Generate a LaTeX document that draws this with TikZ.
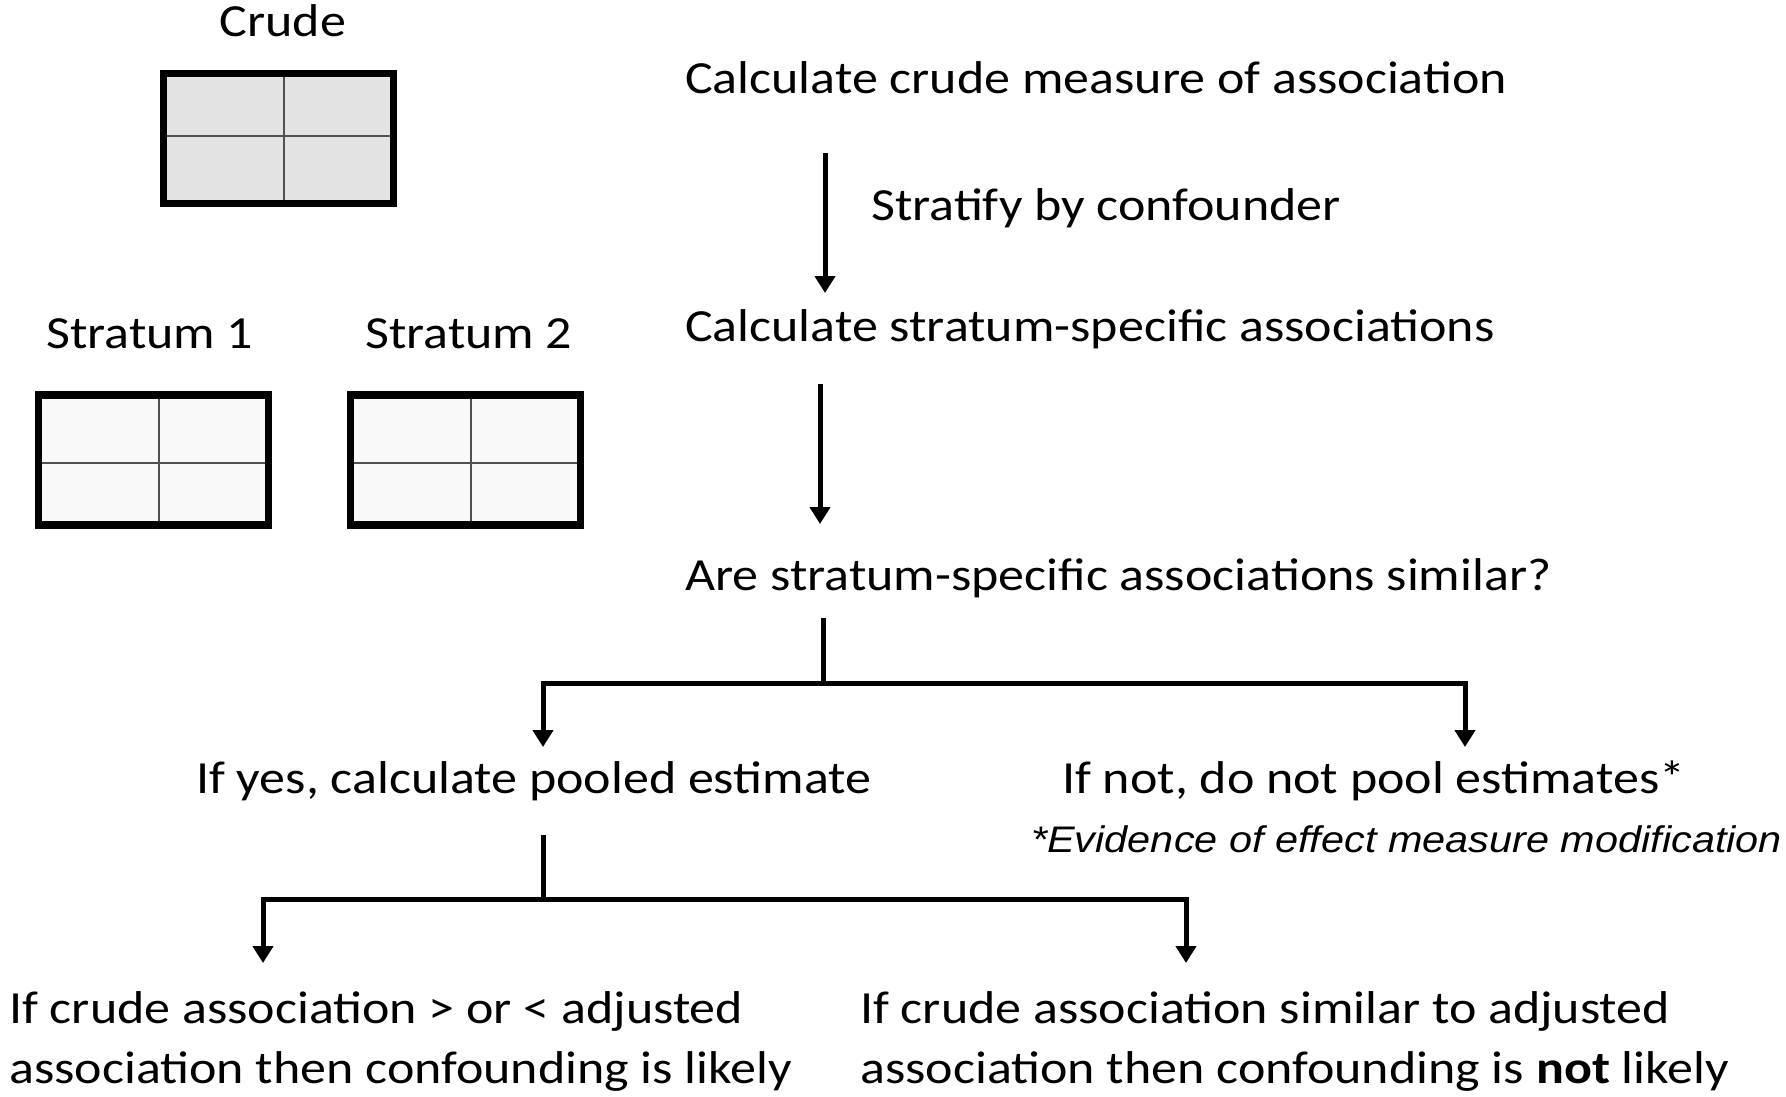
\documentclass[tikz,border=0pt]{standalone}
\usepackage{fontspec}
\setmainfont{Carlito}[FakeStretch=1.13]
\newfontfamily\notefont{Liberation Sans}[FakeStretch=1.12]
\usetikzlibrary{arrows.meta}
\definecolor{crudefill}{HTML}{E3E3E3}
\definecolor{stratfill}{HTML}{F9F9F9}
\definecolor{gridline}{HTML}{505050}
\begin{document}
\begin{tikzpicture}[x=1pt,y=-1pt,
  txt/.style={inner sep=0pt, anchor=base west, font=\fontsize{46}{55}\selectfont},
  note/.style={inner sep=0pt, anchor=base west, font=\notefont\itshape\fontsize{37}{44}\selectfont},
  tablebox/.style={draw=black, line width=7.5pt, rectangle, inner sep=0pt, outer sep=0pt,
                   minimum width=230pt, minimum height=130pt},
  cell/.style={draw=gridline, line width=2.2pt, shorten <=3.5pt, shorten >=3.5pt},
  border/.style={line width=7.5pt},
  conn/.style={line width=5pt},
  arr/.style={conn, -{Triangle[width=20pt,length=17pt]}},
  twoarr/.style={conn, {Triangle[width=20pt,length=17pt]}-{Triangle[width=20pt,length=17pt]}}
]
\useasboundingbox (0,0) rectangle (1786,1097);

% 2x2 tables
\node[tablebox, fill=crudefill] (crude) at (278.5,138.3) {};
\node[tablebox, fill=stratfill] (s1) at (153.3,459.9) {};
\node[tablebox, fill=stratfill] (s2) at (465.5,460) {};
\draw[cell] (crude.north -| 284,0) -- (crude.south -| 284,0);
\draw[cell] (crude.west |- 0,135.7) -- (crude.east |- 0,135.7);
\draw[cell] (s1.north -| 159,0) -- (s1.south -| 159,0);
\draw[cell] (s1.west |- 0,462.7) -- (s1.east |- 0,462.7);
\draw[cell] (s2.north -| 471,0) -- (s2.south -| 471,0);
\draw[cell] (s2.west |- 0,462.7) -- (s2.east |- 0,462.7);
% borders drawn again on top of the grid lines
\draw[border] (crude.north west) rectangle (crude.south east);
\draw[border] (s1.north west) rectangle (s1.south east);
\draw[border] (s2.north west) rectangle (s2.south east);

% table labels
\node[txt, anchor=base] (crudelbl) at (283,37) {Crude};
\node[txt] (s1lbl) at (46,348) {Stratum 1};
\node[txt] (s2lbl) at (365,348) {Stratum 2};

% flow texts
\node[txt] (q1) at (685,94) {Calculate crude measure of association};
\node[txt] (strat) at (871,220) {Stratify by confounder};
\node[txt] (q2) at (685,341) {Calculate stratum-specific associations};
\node[txt] (q3) at (685,590) {Are stratum-specific associations similar?};
\node[txt] (yes) at (196,793) {If yes, calculate pooled estimate};
\node[txt] (no) at (1062,793) {If not, do not pool estimates*};
\node[note] (emm) at (1031,852) {*Evidence of effect measure modification};
\node[txt] (l1) at (9,1023) {If crude association > or < adjusted};
\node[txt] (l2) at (9,1083) {association then confounding is likely};
\node[txt] (r1) at (860,1023) {If crude association similar to adjusted};
\node[txt] (r2) at (860,1083) {association then confounding is \textbf{not} likely};

% connector end points
\coordinate (a1s) at (825,153);
\coordinate (a1e) at (825,293);
\coordinate (a2s) at (820,384);
\coordinate (a2e) at (820,524);
\coordinate (t1s) at (823,618);
\coordinate (t1e) at (823,683);
\coordinate (b1l) at (543,683);
\coordinate (b1r) at (1465,683);
\coordinate (yesin) at (543,747);
\coordinate (noin) at (1465,747);
\coordinate (t2s) at (543,835);
\coordinate (t2e) at (543,899);
\coordinate (b2l) at (263,899);
\coordinate (b2r) at (1186,899);
\coordinate (lin) at (263,963);
\coordinate (rin) at (1186,963);

% connectors
\draw[arr] (a1s) -- (a1e);
\draw[arr] (a2s) -- (a2e);
\draw[conn] (t1s) -- (t1e);
\draw[twoarr] (yesin) -- (b1l) -- (b1r) -- (noin);
\draw[conn] (t2s) -- (t2e);
\draw[twoarr] (lin) -- (b2l) -- (b2r) -- (rin);
\end{tikzpicture}
\end{document}
